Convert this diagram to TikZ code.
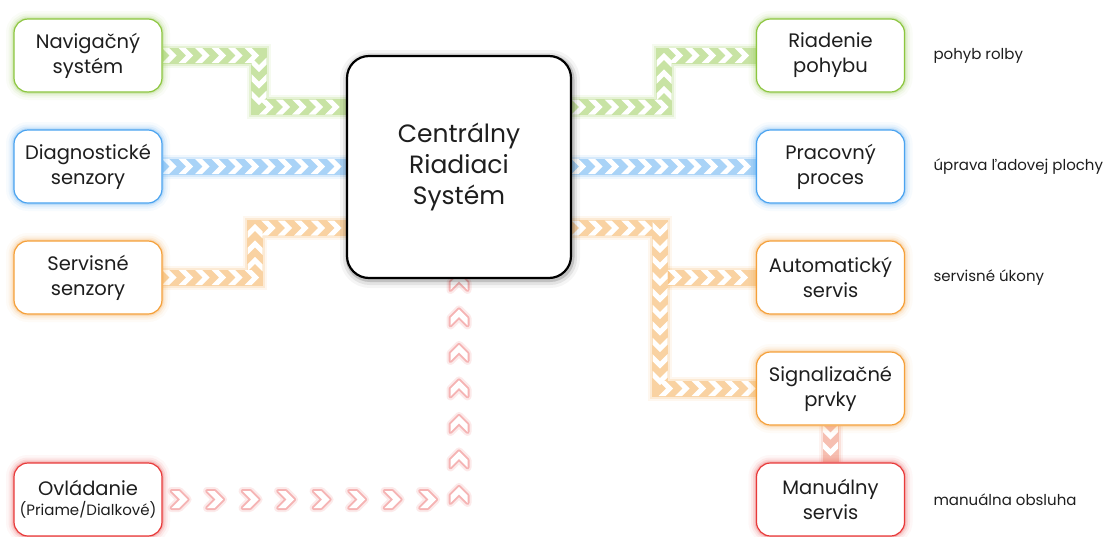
\documentclass[tikz,border=0pt]{standalone}
\usepackage{fontspec}
\setmainfont{Poppins}
\usetikzlibrary{decorations.markings}
\pgfdeclarelayer{background}
\pgfsetlayers{background,main}
\definecolor{cgreen}{HTML}{8CC63F}
\definecolor{cblue}{HTML}{4AA3F0}
\definecolor{corange}{HTML}{F5A03A}
\definecolor{cred}{HTML}{E83A3A}
\definecolor{cmix}{HTML}{EE7A5A}
\definecolor{ctext}{HTML}{1E1E1E}
\newcommand\chevshape[1]{\fill[#1] (-7.5pt,7.5pt)--(-0.5pt,7.5pt)--(7pt,0pt)--(-0.5pt,-7.5pt)--(-7.5pt,-7.5pt)--(0pt,0pt)--cycle;}
\newcommand\chevglow[1]{%
  \draw[#1, line width=8pt, opacity=.1, line join=round] (-8pt,8.5pt)--(-0.5pt,8.5pt)--(8pt,0pt)--(-0.5pt,-8.5pt)--(-8pt,-8.5pt)--(0.5pt,0pt)--cycle;
  \draw[#1, line width=4pt, opacity=.3, line join=round] (-8pt,8.5pt)--(-0.5pt,8.5pt)--(8pt,0pt)--(-0.5pt,-8.5pt)--(-8pt,-8.5pt)--(0.5pt,0pt)--cycle;
  \fill[white] (-8pt,8.5pt)--(-0.5pt,8.5pt)--(8pt,0pt)--(-0.5pt,-8.5pt)--(-8pt,-8.5pt)--(0.5pt,0pt)--cycle;}
\tikzset{
  box/.style={draw=#1, line width=1.2pt, fill=white, rounded corners=14pt,
    minimum width=148pt, minimum height=73pt, align=center, text=ctext,
    font=\fontsize{19.5}{25}\selectfont,
    preaction={draw=#1, line width=16pt, opacity=.04},
    preaction={draw=#1, line width=11pt, opacity=.07},
    preaction={draw=#1, line width=7pt, opacity=.11},
    preaction={draw=#1, line width=3.5pt, opacity=.2}},
  centralbox/.style={draw=black, line width=2.2pt, fill=white, rounded corners=22pt,
    minimum width=224pt, minimum height=222pt, align=center, text=ctext,
    font=\fontsize{25}{31}\selectfont,
    preaction={draw=black, line width=16pt, opacity=.04, transform canvas={shift={(1pt,-2pt)}}},
    preaction={draw=black, line width=10pt, opacity=.07, transform canvas={shift={(1pt,-2pt)}}},
    preaction={draw=black, line width=5pt, opacity=.15, transform canvas={shift={(1pt,-1.5pt)}}}},
  sidelabel/.style={anchor=west, text=ctext, font=\fontsize{15}{18}\selectfont},
  band/.style={line join=miter, line cap=butt,
    preaction={draw=#1, line width=24pt, opacity=.08},
    preaction={draw=#1, line width=20pt, opacity=.15},
    preaction={draw=#1, line width=16pt, opacity=.32},
    decoration={markings, mark=between positions 7pt and 1 step 16.5pt with {\chevshape{white}}},
    postaction=decorate},
  dots/.style={decoration={markings, mark=between positions 17pt and 1 step 35.5pt with {\chevglow{#1}}},
    postaction=decorate},
}
\begin{document}
\begin{tikzpicture}[x=1pt,y=-1pt]
\useasboundingbox (0,0) rectangle (1108,536);

\node[box=cgreen] (nav) at (88,55.5) {Navigačný\\systém};
\node[box=cblue] (diag) at (88,166.5) {Diagnostické\\senzory};
\node[box=corange] (serv) at (88,277.5) {Servisné\\senzory};
\node[box=cred] (ovl) at (88,499.5) {Ovládanie\\[-5pt]{\fontsize{15}{17}\selectfont(Priame/Dialkové)}};

\node[box=cgreen] (riad) at (830.5,55.5) {Riadenie\\pohybu};
\node[box=cblue] (prac) at (830.5,166.5) {Pracovný\\proces};
\node[box=corange] (auto) at (830.5,277.5) {Automatický\\servis};
\node[box=corange] (sig) at (830.5,388.5) {Signalizačné\\prvky};
\node[box=cred] (man) at (830.5,499.5) {Manuálny\\servis};

\node[centralbox] (cen) at (459,167) {Centrálny\\Riadiaci\\Systém};

\node[sidelabel] (l1) at (930,55.5) {pohyb rolby};
\node[sidelabel] (l2) at (930,166.5) {úprava ľadovej plochy};
\node[sidelabel] (l3) at (930,277.5) {servisné úkony};
\node[sidelabel] (l4) at (930,499.5) {manuálna obsluha};

\coordinate (gl1) at (259,55.5);
\coordinate (gl2) at (259,107);
\coordinate (gr1) at (664,107);
\coordinate (gr2) at (664,55.5);
\coordinate (ol1) at (255,277.5);
\coordinate (ol2) at (255,228);
\coordinate (or1) at (660,228);
\coordinate (or2) at (660,388.5);
\coordinate (or3) at (660,277.5);
\coordinate (rc)  at (459,499.5);

\begin{pgfonlayer}{background}
\fill[white] (0,0) rectangle (1108,536);
\path[band=cgreen] (nav.east) -- (gl1) -- (gl2) -- (gl2 -| cen.west);
\path[band=cgreen] (gr1 -| cen.east) -- (gr1) -- (gr2) -- (riad.west);
\path[band=cblue] (diag.east) -- (diag.east -| cen.west);
\path[band=cblue] (prac.west -| cen.east) -- (prac.west);
\path[band=corange] (serv.east) -- (ol1) -- (ol2) -- (ol2 -| cen.west);
\path[band=corange] (or1 -| cen.east) -- (or1) -- (or2) -- (sig.west);
\path[band=corange] ([xshift=8pt]or3) -- (auto.west);
\path[band=cmix] (sig.south) -- (man.north);
\path[dots=cred] (ovl.east) -- (rc) -- (cen.south);
\end{pgfonlayer}
\end{tikzpicture}
\end{document}
